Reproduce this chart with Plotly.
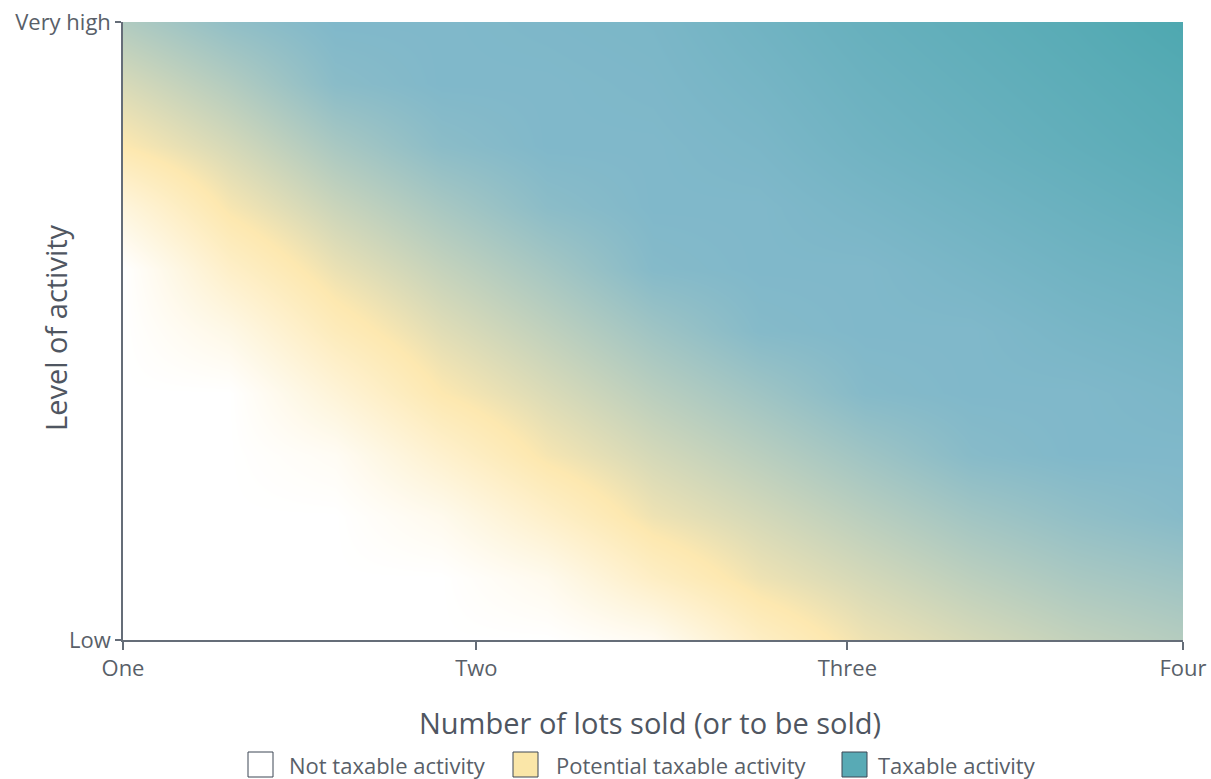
import plotly.graph_objects as go

# ---- data ----
# number of lots (x) and level of activity (y, 0 = Low, 1 = Very high) grid
x_lots = [1.0, 1.3, 1.6, 1.9, 2.2, 2.5, 2.8, 3.1, 3.4, 3.7, 4.0]
y_level = [0.0, 0.1, 0.2, 0.3, 0.4, 0.5, 0.6, 0.7, 0.8, 0.9, 1.0]
# taxability score read from the colours: 0 = not taxable (white),
# 1 = potential (yellow), 2 = taxable (light blue), 3 = strongly taxable (teal)
score_rows = [
    [0.00, 0.00, 0.00, 0.00, 0.00, 0.17, 0.75, 1.12, 1.31, 1.47, 1.58],
    [0.00, 0.00, 0.00, 0.00, 0.23, 0.74, 1.12, 1.33, 1.52, 1.67, 1.76],
    [0.00, 0.00, 0.00, 0.23, 0.68, 1.12, 1.33, 1.54, 1.73, 1.86, 1.95],
    [0.00, 0.00, 0.14, 0.62, 1.06, 1.33, 1.54, 1.75, 1.94, 2.00, 2.00],
    [0.00, 0.00, 0.50, 1.00, 1.28, 1.54, 1.75, 1.96, 2.00, 2.00, 2.10],
    [0.00, 0.31, 0.86, 1.23, 1.49, 1.75, 1.96, 2.00, 2.00, 2.15, 2.25],
    [0.00, 0.69, 1.15, 1.45, 1.70, 1.96, 2.00, 2.00, 2.15, 2.30, 2.40],
    [0.44, 1.05, 1.41, 1.68, 1.91, 2.00, 2.00, 2.15, 2.30, 2.45, 2.60],
    [1.00, 1.32, 1.67, 1.91, 2.00, 2.00, 2.10, 2.30, 2.45, 2.60, 2.75],
    [1.30, 1.59, 1.92, 2.00, 2.00, 2.05, 2.20, 2.40, 2.55, 2.70, 2.85],
    [1.61, 1.86, 2.00, 2.00, 2.05, 2.10, 2.30, 2.50, 2.65, 2.80, 3.00],
]
x_tick_vals = [1, 2, 3.05, 4]
x_tick_text = ["One", "Two", "Three", "Four"]
y_tick_vals = [0, 1]
y_tick_text = ["Low", "Very high"]
legend_labels = ["Not taxable activity", "Potential taxable activity", "Taxable activity"]
legend_colors = ["#ffffff", "#fae6a8", "#58aab5"]

WHITE, YELLOW, BLUE, TEAL = "#ffffff", "#fde8b0", "#80b8ca", "#4ea8b0"
AXIS = "#656d78"
TEXT = "#595f69"
FONT = "Open Sans, DejaVu Sans, sans-serif"

fig = go.Figure()
fig.add_trace(go.Heatmap(
    x=x_lots, y=y_level, z=score_rows,
    zmin=0, zmax=3, zsmooth="best", showscale=False, hoverinfo="skip",
    colorscale=[[0, WHITE], [1/3, YELLOW], [2/3, BLUE], [1, TEAL]],
))

fig.update_layout(
    width=1211, height=779,
    margin=dict(l=123, r=28, t=22, b=139, autoexpand=False),
    paper_bgcolor="white", plot_bgcolor="white",
    font=dict(family=FONT, color=TEXT),
    showlegend=False,
)
fig.update_xaxes(
    range=[1, 4], tickvals=x_tick_vals, ticktext=x_tick_text,
    showgrid=False, zeroline=False, showline=True, linecolor=AXIS, linewidth=1.5,
    ticks="outside", ticklen=8, tickcolor=AXIS, tickwidth=1.5,
    tickfont=dict(size=22, color=TEXT, family=FONT),
)
fig.update_yaxes(
    range=[0, 1], tickvals=y_tick_vals, ticktext=y_tick_text,
    showgrid=False, zeroline=False, showline=True, linecolor=AXIS, linewidth=1.5,
    ticks="outside", ticklen=6, tickcolor=AXIS, tickwidth=1.5,
    tickfont=dict(size=22, color=TEXT, family=FONT),
)

def px_x(px):
    return (px - 123) / 1060.0

def px_y(py):
    return (640 - py) / 618.0

ann = [
    dict(text="Number of lots sold (or to be sold)", xref="paper", yref="paper",
         x=px_x(650), y=px_y(722), showarrow=False, xanchor="center", yanchor="middle",
         font=dict(size=29, color="#4f5661", family=FONT)),
    dict(text="Level of activity", xref="paper", yref="paper", textangle=-90,
         x=px_x(55), y=px_y(328), showarrow=False, xanchor="center", yanchor="middle",
         font=dict(size=29, color="#4f5661", family=FONT)),
]
shapes = []
box_left = [248, 513, 842]
text_left = [287, 554, 876]
for lab, col, bx, tx in zip(legend_labels, legend_colors, box_left, text_left):
    shapes.append(dict(type="rect", xref="paper", yref="paper",
                       x0=px_x(bx), x1=px_x(bx + 25), y0=px_y(777), y1=px_y(752),
                       fillcolor=col, line=dict(color="#3c4654", width=1)))
    ann.append(dict(text=lab, xref="paper", yref="paper", x=px_x(tx), y=px_y(765),
                    showarrow=False, xanchor="left", yanchor="middle",
                    font=dict(size=22, color=TEXT, family=FONT)))
fig.update_layout(annotations=ann, shapes=shapes)

fig.write_html(
    "out.html",
    config={"displayModeBar": False},
    post_script="document.body.style.margin='0';document.body.style.overflow='hidden';",
)
